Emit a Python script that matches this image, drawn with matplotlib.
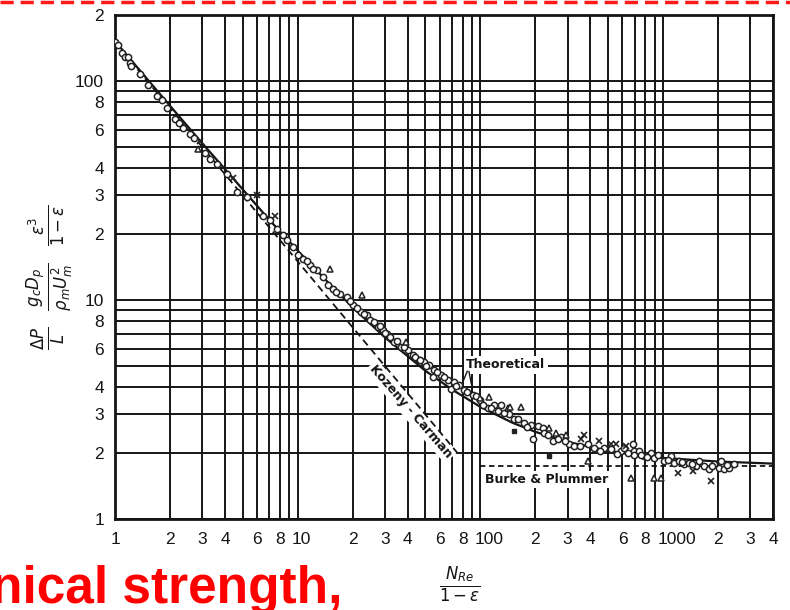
import matplotlib
matplotlib.use("Agg")
import matplotlib.pyplot as plt
import matplotlib.transforms as mtrans
from matplotlib.lines import Line2D

# values
theory_x = [1, 1.5, 2, 3, 5, 7, 10, 15, 20, 30, 50, 70, 100, 150, 200, 300, 500, 700, 1000, 2000, 4000]
theory_y = [152, 102, 77, 52, 32, 23.2, 16.8, 11.8, 9.25, 6.75, 4.75, 3.9, 3.25, 2.75, 2.5, 2.25, 2.05, 1.96, 1.9, 1.83, 1.79]

kozeny_x = [1, 75]
kozeny_y = [150, 2.0]

burke_x = [100, 4000]
burke_y = [1.75, 1.75]

circ_x = [1.0, 1.04, 1.09, 1.13, 1.18, 1.21, 1.23, 1.37, 1.52, 1.69, 1.80, 1.92, 2.13, 2.23, 2.37, 2.58,
          2.69, 3.12, 3.32, 3.61, 4.11, 4.67, 5.30, 6.48, 7.08, 7.74, 8.35, 8.78, 9.47, 10.1, 10.7, 11.7,
          12.8, 13.7, 14.7, 15.7, 17.1, 18.7, 20.2, 22.1, 24.1, 25.0, 27.4, 29.2, 31.0, 33.5, 36.6, 40.0,
          42.6, 45.9, 48.9, 52.1, 55.5, 60.6, 54.8, 66.2, 71.5, 76.2, 68.8, 81.1, 90.8, 100, 119, 110,
          104, 114, 125, 129, 143, 152, 173, 189, 194, 206, 220, 223, 250, 276, 305, 325, 388, 419, 475,
          589, 612, 686, 694, 694, 739, 788, 860, 894, 940, 1014, 1107, 1150, 1225, 1305, 1390, 1520,
          1578, 1680, 1790, 1905, 2030, 2080, 2165, 2305, 2455,
          11.2, 12.2, 16.3, 19.4, 21.0, 23.0, 26.2, 28.3, 30.1, 32.2, 34.8, 38.2, 44.0, 47.0, 50.5, 58.0,
          63.0, 73.9, 85.0, 95.0, 135, 160, 180, 235, 265, 290, 350, 450, 520, 560, 640, 760, 820, 1060,
          1270, 1450, 1850, 2250]
circ_y = [151, 146, 134, 129, 129, 121, 117, 107, 96, 85, 82, 75, 67, 64, 61, 57,
          55, 47, 43.9, 41.7, 37.4, 31.0, 29.4, 24.3, 23.1, 21.0, 19.7, 18.7, 17.4, 16.0, 15.4, 14.4,
          13.7, 12.7, 11.7, 11.2, 10.6, 10.3, 9.5, 8.82, 8.55, 8.11, 7.54, 7.31, 7.0, 6.44, 6.11, 5.93,
          5.62, 5.33, 5.22, 5.07, 4.81, 4.56, 4.47, 4.33, 4.24, 4.11, 3.94, 3.90, 3.70, 3.51, 3.33, 3.20,
          3.33, 3.20, 3.10, 3.33, 3.00, 2.85, 2.73, 2.70, 2.33, 2.65, 2.59, 2.46, 2.26, 2.38, 2.19, 2.15,
          2.21, 2.10, 2.10, 2.04, 2.10, 2.21, 2.04, 1.97, 2.04, 1.93, 2.0, 1.89, 1.97, 1.84, 1.93, 1.80,
          1.84, 1.78, 1.80, 1.74, 1.84, 1.74, 1.69, 1.78, 1.71, 1.84, 1.69, 1.71, 1.78,
          15.0, 13.9, 10.9, 9.9, 9.2, 8.6, 7.9, 7.6, 7.1, 6.8, 6.5, 6.1, 5.5, 5.3, 5.0, 4.7,
          4.45, 4.05, 3.8, 3.65, 3.05, 2.85, 2.62, 2.42, 2.32, 2.28, 2.15, 2.05, 2.08, 1.98, 2.0, 1.96,
          1.92, 1.86, 1.82, 1.79, 1.74, 1.76]

tri_x = [2.86, 15.1, 22.6, 39.0, 100, 111, 141, 146, 167, 237, 259, 294, 388, 668, 894, 977]
tri_y = [48.7, 13.8, 10.5, 6.44, 3.55, 3.62, 3.20, 3.26, 3.26, 2.59, 2.46, 2.43, 1.84, 1.54, 1.54, 1.54]

cross_x = [2.92, 4.44, 6.01, 7.55, 355, 369, 446, 519, 553, 628, 1210, 1463, 1835]
cross_y = [53, 36.2, 30.3, 24.3, 2.31, 2.43, 2.26, 2.21, 2.21, 2.15, 1.62, 1.65, 1.49]

sq_x = [152, 237]
sq_y = [2.51, 1.93]

x_ticks = [1, 2, 3, 4, 6, 8, 10, 20, 30, 40, 60, 80, 100, 200, 300, 400, 600, 800, 1000, 2000, 3000, 4000]
x_labels = ['1', '2', '3', '4', '6', '8', '10', '2', '3', '4', '6', '8', '100',
            '2', '3', '4', '6', '8', '1000', '2', '3', '4']
x_minor = [5, 7, 9, 50, 70, 90, 500, 700, 900]
y_ticks = [1, 2, 3, 4, 6, 8, 10, 20, 30, 40, 60, 80, 100, 200]
y_labels = ['1', '2', '3', '4', '6', '8', '10', '2', '3', '4', '6', '8', '100', '2']
y_minor = [5, 7, 9, 50, 70, 90]

ink = '#151515'

fig = plt.figure(figsize=(7.9, 6.1), dpi=100)
ax = fig.add_axes([115 / 790, 1 - 519 / 610, 658 / 790, 504 / 610])
ax.set_xscale('log')
ax.set_yscale('log')
ax.set_xlim(1, 4000)
ax.set_ylim(1, 200)

ax.set_xticks(x_ticks)
ax.set_xticklabels(x_labels, family='Liberation Sans')
ax.set_xticks(x_minor, minor=True)
ax.set_yticks(y_ticks)
ax.set_yticklabels(y_labels, family='Liberation Sans')
ax.set_yticks(y_minor, minor=True)
ax.tick_params(which='both', length=0, labelsize=12.5, colors=ink)
ax.tick_params(axis='x', pad=9)
ax.tick_params(axis='y', pad=8)
ax.tick_params(which='minor', labelleft=False, labelbottom=False)

# the "10", "100", "1000" labels start at their grid line, like the hand lettering
shift = mtrans.ScaledTranslation(-4 / 72, 0, fig.dpi_scale_trans)
for lab in ax.get_xticklabels():
    if lab.get_text() in ('10', '100', '1000'):
        lab.set_horizontalalignment('left')
        lab.set_transform(lab.get_transform() + shift)

ax.set_axisbelow(True)
ax.grid(True, which='both', color=ink, lw=1.4)
for s in ax.spines.values():
    s.set_linewidth(2)
    s.set_color(ink)

# curves
ax.plot(theory_x, theory_y, color=ink, lw=1.6, zorder=5)
ax.plot(kozeny_x, kozeny_y, color=ink, lw=1.3, dashes=(4, 2.5), zorder=5)
ax.plot(burke_x, burke_y, color=ink, lw=1.3, dashes=(3, 2), zorder=5)

# data points
ax.plot(circ_x, circ_y, 'o', ms=4.5, mfc='white', mec='#222222', mew=1.1, zorder=6)
ax.plot(tri_x, tri_y, '^', ms=4.5, mfc='white', mec='#222222', mew=1.1, zorder=6)
ax.plot(cross_x, cross_y, 'x', ms=4.5, mec='#222222', mew=1.2, zorder=6)
ax.plot(sq_x, sq_y, 's', ms=3.5, mfc='#222222', mec='#222222', zorder=6)

box = dict(facecolor='white', edgecolor='none', pad=1.5)
ax.text(41.6, 3.1, 'Kozeny - Carman', rotation=-49, ha='center', va='center', fontsize=9,
        fontweight='bold', color=ink, bbox=box, zorder=3)
ax.text(231, 1.52, 'Burke & Plummer', ha='center', va='center', fontsize=9,
        fontweight='bold', color=ink, bbox=box, zorder=3)
ax.text(138, 5.05, 'Theoretical', ha='center', va='center', fontsize=9,
        fontweight='bold', color=ink, bbox=box, zorder=3)
ax.annotate('', xy=(78, 4.0), xytext=(86, 4.86),
            arrowprops=dict(arrowstyle='-', color=ink, lw=1.0), zorder=4)
ax.annotate('', xy=(90, 4.0), xytext=(86, 4.86),
            arrowprops=dict(arrowstyle='-', color=ink, lw=1.0), zorder=4)

# axis titles
fig.text(50 / 790, 1 - 277 / 610,
         r'$\frac{\Delta P}{L}\ \ \frac{g_c D_p}{\rho_m U_m^2}\ \ \frac{\epsilon^3}{1-\epsilon}$',
         rotation=90, ha='center', va='center', fontsize=17, color=ink)
fig.text(460 / 790, 1 - 585 / 610, r'$\frac{N_{Re}}{1-\epsilon}$',
         ha='center', va='center', fontsize=17, color=ink)

# slide overlay bits: red dashed border and clipped red heading
fig.add_artist(Line2D([0, 1], [1 - 2 / 610, 1 - 2 / 610], transform=fig.transFigure,
                      color='#ff1a1a', lw=2.5, dashes=(3.8, 2.0)))
fig.text(-0.011, 1 - 603 / 610, 'nical strength,', ha='left', va='baseline',
         fontsize=37, fontweight='bold', color='#ff0000', family='Liberation Sans')

fig.savefig('out.png', dpi=100)
